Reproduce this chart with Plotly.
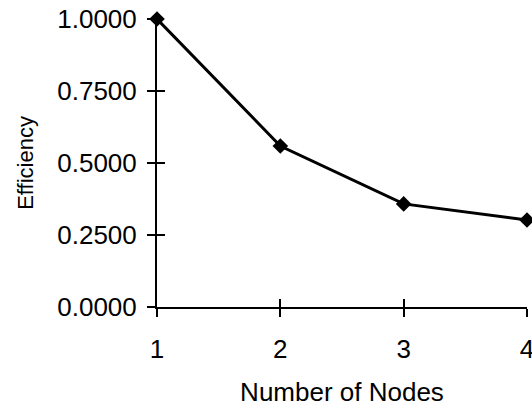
import plotly.graph_objects as go

# Parallel efficiency versus cluster size
nodes = [1, 2, 3, 4]
efficiency = [1.0, 0.559, 0.358, 0.302]
y_ticks = [0.0, 0.25, 0.5, 0.75, 1.0]
y_tick_text = ["0.0000", "0.2500", "0.5000", "0.7500", "1.0000"]
x_ticks = [1, 2, 3, 4]

font_family = "Liberation Sans, Arial, sans-serif"

fig = go.Figure()
fig.add_trace(go.Scatter(
    x=nodes, y=efficiency, mode="lines+markers",
    line=dict(color="black", width=3),
    marker=dict(symbol="diamond", size=12, color="black"),
    cliponaxis=False, showlegend=False,
))
# invisible trace on the overlay axes so they render their ticks
fig.add_trace(go.Scatter(x=[nodes[0]], y=[efficiency[0]], xaxis="x2", yaxis="y2",
                         mode="markers", marker=dict(opacity=0), showlegend=False,
                         hoverinfo="skip"))

common_x = dict(range=[1, 4], tickvals=x_ticks, showgrid=False, zeroline=False,
                ticklen=8, tickwidth=1.5, tickcolor="black", automargin=False)
common_y = dict(range=[0, 1], tickvals=y_ticks, showgrid=False, zeroline=False,
                ticklen=8, tickwidth=1.5, tickcolor="black", automargin=False)

fig.update_layout(
    width=532, height=409,
    margin=dict(l=157, r=5, t=19, b=102, autoexpand=False),
    paper_bgcolor="white", plot_bgcolor="white",
    font=dict(family=font_family, size=26, color="black"),
    xaxis=dict(**common_x, ticks="outside", showline=True, linecolor="black",
               linewidth=2, ticklabelstandoff=10, ticklabeloverflow="allow",
               title=dict(text="Number of Nodes", font=dict(size=26), standoff=20)),
    yaxis=dict(**common_y, ticks="outside", showline=True, linecolor="black",
               linewidth=2, ticktext=y_tick_text, ticklabelstandoff=5,
               title=dict(text="Efficiency", font=dict(size=22), standoff=18)),
    xaxis2=dict(**common_x, ticks="inside", overlaying="x", showticklabels=False,
                matches="x"),
    yaxis2=dict(**common_y, ticks="inside", overlaying="y", showticklabels=False,
                matches="y"),
)

fig.write_html("out.html")
